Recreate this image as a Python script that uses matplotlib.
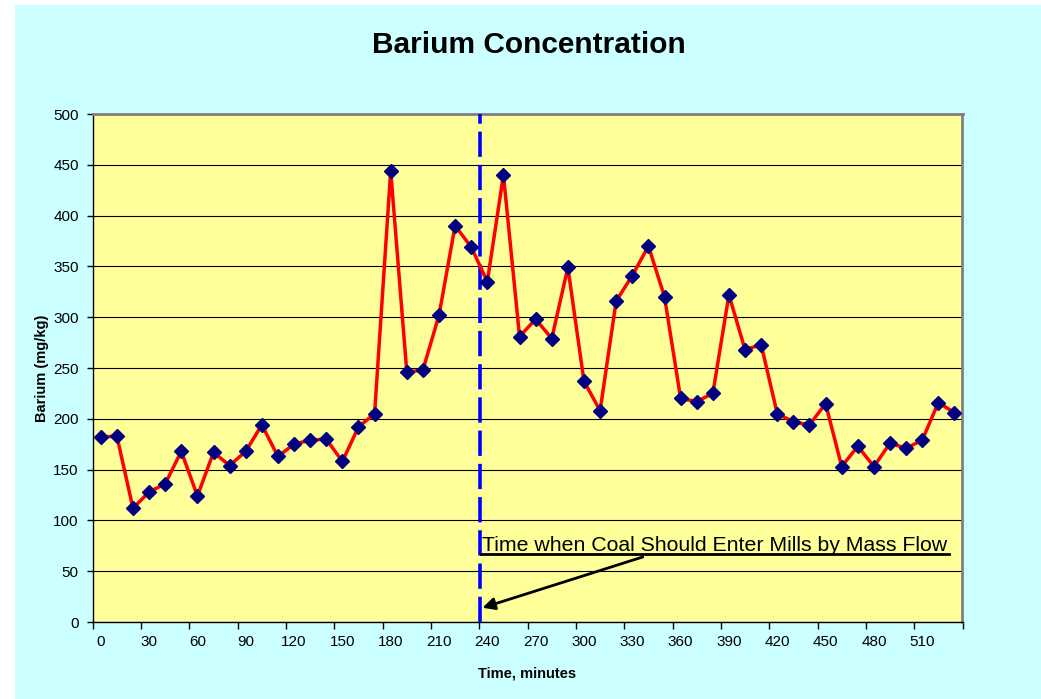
import matplotlib
matplotlib.use("Agg")
import matplotlib.pyplot as plt
from matplotlib.patches import Rectangle
from matplotlib.lines import Line2D
from matplotlib.ticker import FixedLocator, NullFormatter

# ---- data ----
times = [0, 10, 20, 30, 40, 50, 60, 70, 80, 90,
         100, 110, 120, 130, 140, 150, 160, 170, 180, 190,
         200, 210, 220, 230, 240, 250, 260, 270, 280, 290,
         300, 310, 320, 330, 340, 350, 360, 370, 380, 390,
         400, 410, 420, 430, 440, 450, 460, 470, 480, 490,
         500, 510, 520, 530]
barium = [182, 183, 112, 128, 136, 168, 124, 167, 154, 168,
          194, 163, 175, 179, 180, 158, 192, 205, 444, 246,
          248, 302, 390, 369, 335, 440, 281, 298, 279, 349,
          237, 208, 316, 341, 370, 320, 220, 217, 225, 322,
          268, 273, 205, 197, 194, 215, 153, 173, 153, 176,
          171, 179, 216, 206]
xtick_labels = [0, 30, 60, 90, 120, 150, 180, 210, 240, 270,
                300, 330, 360, 390, 420, 450, 480, 510]
yticks = [0, 50, 100, 150, 200, 250, 300, 350, 400, 450, 500]
coal_entry_x = 235.5
annotation_text = "Time when Coal Should Enter Mills by Mass Flow"

plt.rcParams['font.family'] = ['Liberation Sans', 'DejaVu Sans']

W, H = 1041, 699
fig = plt.figure(figsize=(W / 100, H / 100), dpi=100)
fig.patch.set_facecolor('white')
fig.patches.append(Rectangle((15 / W, 0), 1 - 15 / W, 1 - 5 / H,
                             transform=fig.transFigure, facecolor='#CCFFFF',
                             edgecolor='none', zorder=-10))

left, right, top, bottom = 92.7, 962.5, 114, 622
ax = fig.add_axes([left / W, 1 - bottom / H, (right - left) / W, (bottom - top) / H])
ax.set_facecolor('#FFFF99')

half = (times[1] - times[0]) / 2
ax.set_xlim(times[0] - half, times[-1] + half)
ax.set_ylim(0, 500)

# gridlines
ax.set_yticks(yticks)
ax.yaxis.grid(True, color='black', linewidth=0.8)
ax.set_axisbelow(True)

# x: tick marks at category boundaries every 3 categories, labels centred on categories
boundaries = [t - half for t in xtick_labels] + [times[-1] + half]
ax.xaxis.set_major_locator(FixedLocator(boundaries))
ax.xaxis.set_major_formatter(NullFormatter())
ax.xaxis.set_minor_locator(FixedLocator(xtick_labels))
ax.set_xticklabels([str(v) for v in xtick_labels], minor=True)
ax.tick_params(axis='x', which='major', length=5, width=1, color='black', direction='out')
ax.tick_params(axis='x', which='minor', length=0, pad=9, labelsize=11)
ax.tick_params(axis='y', length=4, width=1, color='black', direction='out', pad=6, labelsize=11)

for s in ['left', 'bottom']:
    ax.spines[s].set_color('black')
    ax.spines[s].set_linewidth(1)
for s in ['top', 'right']:
    ax.spines[s].set_color('#808080')
    ax.spines[s].set_linewidth(2)

ax.plot(times, barium, color='#FF0000', linewidth=2.5, marker='D', markersize=7.5,
        markerfacecolor='#000080', markeredgecolor='#000080', zorder=5, clip_on=False)

ax.axvline(coal_entry_x, color='#0000FF', linewidth=2.6, linestyle=(0, (7, 2.2)), zorder=4)

# annotation
ax.text(236.5, 70, annotation_text, fontsize=15.3, ha='left', va='baseline', color='black', zorder=6)
ax.add_line(Line2D([236, 526.5], [66.5, 66.5], color='black', linewidth=2, zorder=6))
ax.annotate('', xy=(coal_entry_x + 1.5, 14), xytext=(336.5, 64),
            arrowprops=dict(arrowstyle='-|>', color='black', lw=2, mutation_scale=18,
                            shrinkA=0, shrinkB=0), zorder=6)

fig.text(529 / W, 1 - 45 / H, 'Barium Concentration', fontsize=21.5, fontweight='bold',
         ha='center', va='center')
fig.text(527 / W, 1 - 673 / H, 'Time, minutes', fontsize=10.5, fontweight='bold',
         ha='center', va='center')
fig.text(42 / W, 1 - 368 / H, 'Barium (mg/kg)', fontsize=10.5, fontweight='bold',
         ha='center', va='center', rotation=90)

fig.savefig('out.png', dpi=100, facecolor=fig.get_facecolor())
